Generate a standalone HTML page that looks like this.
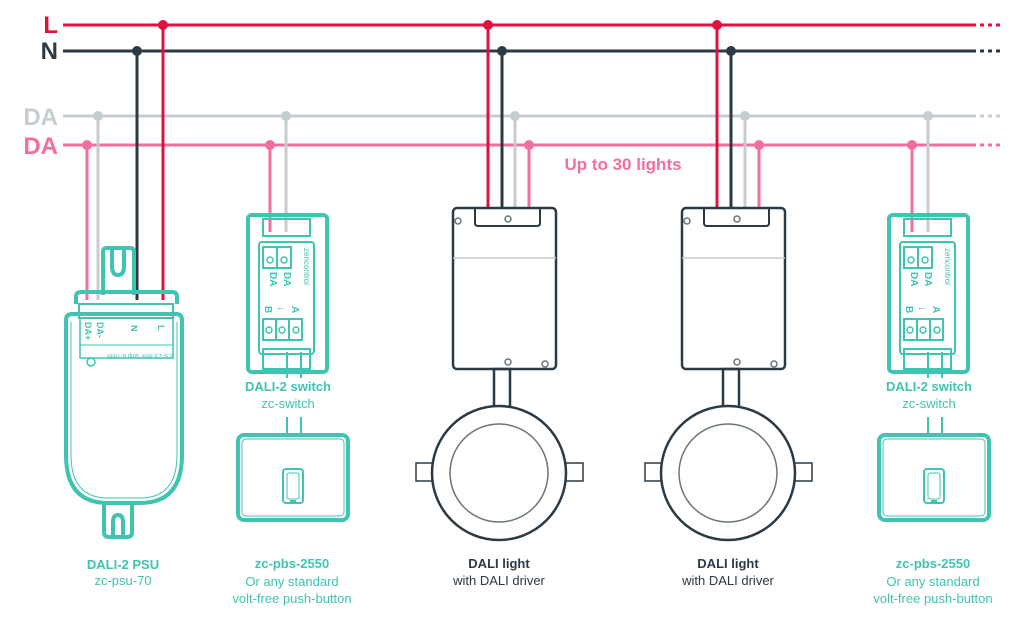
<!DOCTYPE html>
<html><head><meta charset="utf-8"><style>
html,body{margin:0;padding:0;background:#fff}
svg{display:block}
text{font-family:"Liberation Sans",sans-serif}
</style></head><body>
<svg width="1024" height="627" viewBox="0 0 1024 627" xmlns="http://www.w3.org/2000/svg">
<defs>
<g id="sw">
  <rect x="248" y="215" width="79" height="157" rx="4" fill="none" stroke="#3ec4b0" stroke-width="4"/>
  <rect x="263" y="219" width="47" height="17" fill="none" stroke="#3ec4b0" stroke-width="2"/>
  <rect x="259" y="242" width="55" height="112" rx="3" fill="none" stroke="#3ec4b0" stroke-width="2"/>
  <rect x="263" y="247" width="14" height="21" fill="none" stroke="#3ec4b0" stroke-width="2"/>
  <rect x="277" y="247" width="14" height="21" fill="none" stroke="#3ec4b0" stroke-width="2"/>
  <circle cx="270" cy="260" r="3" fill="none" stroke="#3ec4b0" stroke-width="1.5"/>
  <circle cx="284" cy="260" r="3" fill="none" stroke="#3ec4b0" stroke-width="1.5"/>
  <text x="270" y="272" font-size="10" font-weight="bold" fill="#3ec4b0" transform="rotate(90 270 272)">DA</text>
  <text x="284" y="272" font-size="10" font-weight="bold" fill="#3ec4b0" transform="rotate(90 284 272)">DA</text>
  <text x="304" y="248" font-size="8" fill="#3ec4b0" transform="rotate(90 304 248)">zencontrol</text>
  <rect x="263" y="319" width="13" height="21" fill="none" stroke="#3ec4b0" stroke-width="2"/>
  <rect x="276" y="319" width="13" height="21" fill="none" stroke="#3ec4b0" stroke-width="2"/>
  <rect x="289" y="319" width="13" height="21" fill="none" stroke="#3ec4b0" stroke-width="2"/>
  <circle cx="269" cy="330" r="3" fill="none" stroke="#3ec4b0" stroke-width="1.5"/>
  <circle cx="282" cy="330" r="3" fill="none" stroke="#3ec4b0" stroke-width="1.5"/>
  <circle cx="296" cy="330" r="3" fill="none" stroke="#3ec4b0" stroke-width="1.5"/>
  <text x="265" y="306" font-size="10" font-weight="bold" fill="#3ec4b0" transform="rotate(90 265 306)">B</text>
  <text x="278" y="306" font-size="10" font-weight="bold" fill="#3ec4b0" transform="rotate(90 278 306)">↓</text>
  <text x="292" y="306" font-size="10" font-weight="bold" fill="#3ec4b0" transform="rotate(90 292 306)">A</text>
  <rect x="263" y="349" width="47" height="20" fill="none" stroke="#3ec4b0" stroke-width="2"/>
  <line x1="287" y1="352" x2="287" y2="378" stroke="#3ec4b0" stroke-width="2"/>
  <line x1="301" y1="352" x2="301" y2="378" stroke="#3ec4b0" stroke-width="2"/>
  <line x1="287" y1="417" x2="287" y2="434" stroke="#3ec4b0" stroke-width="2"/>
  <line x1="301" y1="417" x2="301" y2="434" stroke="#3ec4b0" stroke-width="2"/>
  <rect x="238" y="435" width="110" height="85" rx="6" fill="#fff" stroke="#3ec4b0" stroke-width="4"/>
  <rect x="242" y="439" width="102" height="77" rx="4" fill="none" stroke="#3ec4b0" stroke-width="1"/>
  <rect x="283" y="469" width="20" height="34" rx="3" fill="none" stroke="#3ec4b0" stroke-width="2"/>
  <rect x="287" y="473" width="12" height="26" rx="2" fill="none" stroke="#3ec4b0" stroke-width="1"/>
  <rect x="290" y="500" width="6" height="2" fill="#3ec4b0"/>
</g>
<g id="lt">
  <rect x="453" y="208" width="103" height="161" rx="4" fill="#fff" stroke="#2b3a45" stroke-width="2.5"/>
  <path d="M475 208 V223 Q475 226 478 226 H537 Q540 226 540 223 V208" fill="none" stroke="#2b3a45" stroke-width="2"/>
  <line x1="453" y1="258" x2="556" y2="258" stroke="#c4cdd1" stroke-width="1.5"/>
  <circle cx="508" cy="219" r="3" fill="none" stroke="#6a757c" stroke-width="1.5"/>
  <circle cx="508" cy="362" r="3" fill="none" stroke="#6a757c" stroke-width="1.5"/>
  <circle cx="458" cy="221" r="3" fill="none" stroke="#6a757c" stroke-width="1.5"/>
  <circle cx="545" cy="364" r="3" fill="none" stroke="#6a757c" stroke-width="1.5"/>
  <rect x="494" y="369" width="16" height="39" fill="none" stroke="#2b3a45" stroke-width="2.5"/>
  <rect x="416" y="463" width="18" height="18" fill="#fff" stroke="#2b3a45" stroke-width="1.5"/>
  <rect x="565" y="463" width="18" height="18" fill="#fff" stroke="#2b3a45" stroke-width="1.5"/>
  <circle cx="499" cy="473" r="67" fill="#fff" stroke="#2b3a45" stroke-width="2.5"/>
  <circle cx="499" cy="473" r="49" fill="none" stroke="#6a757c" stroke-width="1.5"/>
</g>
</defs>

<g stroke-width="3">
  <line x1="63" y1="25" x2="976" y2="25" stroke="#e0103f"/>
  <line x1="980" y1="25" x2="1002" y2="25" stroke="#e0103f" stroke-dasharray="4 4"/>
  <line x1="63" y1="51" x2="976" y2="51" stroke="#2b3a45"/>
  <line x1="980" y1="51" x2="1002" y2="51" stroke="#2b3a45" stroke-dasharray="4 4"/>
  <line x1="63" y1="116" x2="976" y2="116" stroke="#c4cdd1"/>
  <line x1="980" y1="116" x2="1002" y2="116" stroke="#c4cdd1" stroke-dasharray="4 4"/>
  <line x1="63" y1="145" x2="976" y2="145" stroke="#f06fa0"/>
  <line x1="980" y1="145" x2="1002" y2="145" stroke="#f06fa0" stroke-dasharray="4 4"/>
</g>
<g font-size="24" font-weight="bold" text-anchor="end">
  <text x="58" y="33" fill="#e0103f">L</text>
  <text x="58" y="59" fill="#2b3a45">N</text>
  <text x="58" y="125" fill="#c4cdd1">DA</text>
  <text x="58" y="154" fill="#f06fa0">DA</text>
</g>

<g stroke-width="3">
  <line x1="87" y1="145" x2="87" y2="300" stroke="#f06fa0"/>
  <line x1="98" y1="116" x2="98" y2="300" stroke="#c4cdd1"/>
  <line x1="137" y1="51" x2="137" y2="300" stroke="#2b3a45"/>
  <line x1="163" y1="25" x2="163" y2="300" stroke="#e0103f"/>
  <line x1="270" y1="145" x2="270" y2="232" stroke="#f06fa0"/>
  <line x1="286" y1="116" x2="286" y2="232" stroke="#c4cdd1"/>
  <line x1="488" y1="25" x2="488" y2="210" stroke="#e0103f"/>
  <line x1="502" y1="51" x2="502" y2="210" stroke="#2b3a45"/>
  <line x1="515" y1="116" x2="515" y2="210" stroke="#c4cdd1"/>
  <line x1="529" y1="145" x2="529" y2="210" stroke="#f06fa0"/>
  <line x1="717" y1="25" x2="717" y2="210" stroke="#e0103f"/>
  <line x1="731" y1="51" x2="731" y2="210" stroke="#2b3a45"/>
  <line x1="745" y1="116" x2="745" y2="210" stroke="#c4cdd1"/>
  <line x1="759" y1="145" x2="759" y2="210" stroke="#f06fa0"/>
  <line x1="912" y1="145" x2="912" y2="232" stroke="#f06fa0"/>
  <line x1="928" y1="116" x2="928" y2="232" stroke="#c4cdd1"/>
</g>
<g>
  <circle cx="87" cy="145" r="5" fill="#f06fa0"/><circle cx="98" cy="116" r="5" fill="#c4cdd1"/>
  <circle cx="137" cy="51" r="5" fill="#2b3a45"/><circle cx="163" cy="25" r="5" fill="#e0103f"/>
  <circle cx="270" cy="145" r="5" fill="#f06fa0"/><circle cx="286" cy="116" r="5" fill="#c4cdd1"/>
  <circle cx="488" cy="25" r="5" fill="#e0103f"/><circle cx="502" cy="51" r="5" fill="#2b3a45"/>
  <circle cx="515" cy="116" r="5" fill="#c4cdd1"/><circle cx="529" cy="145" r="5" fill="#f06fa0"/>
  <circle cx="717" cy="25" r="5" fill="#e0103f"/><circle cx="731" cy="51" r="5" fill="#2b3a45"/>
  <circle cx="745" cy="116" r="5" fill="#c4cdd1"/><circle cx="759" cy="145" r="5" fill="#f06fa0"/>
  <circle cx="912" cy="145" r="5" fill="#f06fa0"/><circle cx="928" cy="116" r="5" fill="#c4cdd1"/>
</g>
<text x="623" y="170" font-size="17" font-weight="bold" fill="#f06fa0" text-anchor="middle">Up to 30 lights</text>

<g fill="none" stroke="#3ec4b0">
  <path d="M103 295 V252 Q103 248 107 248 H130 Q134 248 134 252 V295" stroke-width="4" fill="#fff"/>
  <path d="M112 250 V266 Q112 275 118 275 Q124 275 124 266 V250" stroke-width="4"/>
  <path d="M76 304 V297 Q76 292 81 292 H172 Q177 292 177 297 V304" stroke-width="4"/>
  <path d="M66 320 Q66 314 72 314 H176 Q182 314 182 320 V455 Q182 503 140 503 H108 Q66 503 66 455 Z" stroke-width="4"/>
  <path d="M71 322 V455 Q71 498 108 498 H140 Q177 498 177 455 V322" stroke-width="1"/>
  <rect x="79" y="304" width="94" height="14" stroke-width="2"/>
  <rect x="80" y="318" width="93" height="40" stroke-width="1.5"/>
  <line x1="80" y1="345" x2="173" y2="345" stroke-width="1"/>
  <circle cx="91" cy="362" r="4" stroke-width="1.5"/>
  <path d="M104 503 V532 Q104 537 109 537 H127 Q132 537 132 532 V503" stroke-width="4"/>
  <path d="M113 537 V522 Q113 515 118 515 Q123 515 123 522 V537" stroke-width="4"/>
</g>
<g font-size="9" font-weight="bold" fill="#3ec4b0">
  <text x="85" y="322" transform="rotate(90 85 322)">DA+</text>
  <text x="97" y="322" transform="rotate(90 97 322)">DA-</text>
  <text x="131" y="325" transform="rotate(90 131 325)">N</text>
  <text x="158" y="325" transform="rotate(90 158 325)">L</text>
  <text x="83" y="348" font-size="6" font-weight="normal" transform="rotate(180 128 351)">0.5-1.5 mm² strip 6-7mm</text>
</g>

<use href="#sw"/>
<use href="#sw" transform="translate(641 0)"/>
<use href="#lt"/>
<use href="#lt" transform="translate(229 0)"/>

<g font-size="13" text-anchor="middle" fill="#3ec4b0">
  <text x="288" y="391" font-weight="bold">DALI-2 switch</text>
  <text x="288" y="408">zc-switch</text>
  <text x="929" y="391" font-weight="bold">DALI-2 switch</text>
  <text x="929" y="408">zc-switch</text>
  <text x="123" y="569" font-weight="bold">DALI-2 PSU</text>
  <text x="123" y="585">zc-psu-70</text>
  <text x="292" y="568" font-weight="bold">zc-pbs-2550</text>
  <text x="292" y="586">Or any standard</text>
  <text x="292" y="603">volt-free push-button</text>
  <text x="933" y="568" font-weight="bold">zc-pbs-2550</text>
  <text x="933" y="586">Or any standard</text>
  <text x="933" y="603">volt-free push-button</text>
</g>
<g font-size="13" text-anchor="middle" fill="#2b3a45">
  <text x="499" y="568" font-weight="bold">DALI light</text>
  <text x="499" y="585">with DALI driver</text>
  <text x="728" y="568" font-weight="bold">DALI light</text>
  <text x="728" y="585">with DALI driver</text>
</g>
</svg>
</body></html>
